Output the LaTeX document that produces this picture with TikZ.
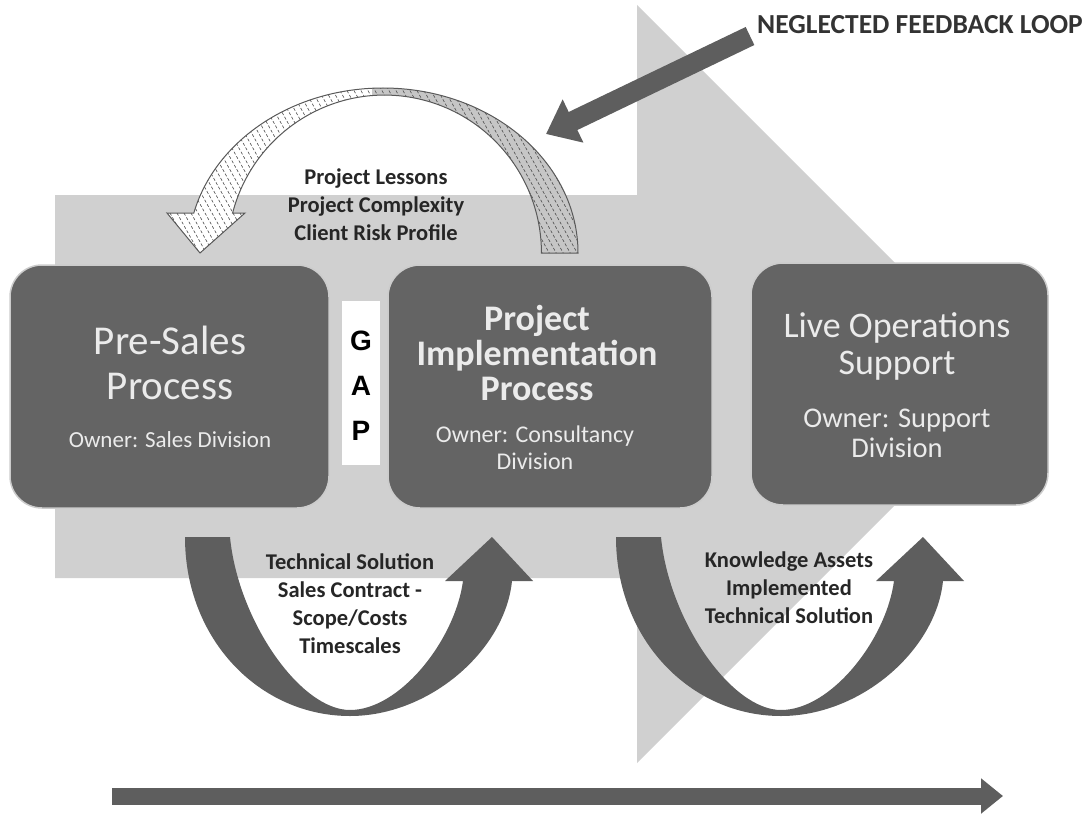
\documentclass[tikz,border=0pt]{standalone}
\usepackage{fontspec}
\setmainfont{Carlito}
\newfontfamily\gapfont{Liberation Sans}
\usetikzlibrary{arrows.meta}

\definecolor{bandgray}{HTML}{D0D0D0}
\definecolor{boxgray}{HTML}{646464}
\definecolor{arrowgray}{HTML}{5E5E5E}
\definecolor{boxtext}{HTML}{EBEBEB}
\definecolor{shadegray}{HTML}{C6C6C6}

% outline of the curved feedback arrow
\newcommand{\fbloop}{(578,253) arc[start angle=0, end angle=-166, x radius=195, y radius=165]
  -- (167,213) -- (200,253) -- (245,213) -- (232.6,213)
  arc[start angle=-165.3, end angle=0, x radius=157, y radius=158] -- cycle}
% outline of the u-turn arrows
\newcommand{\uturn}{(185,537) .. controls (185,640) and (260,716) .. (350,716)
  .. controls (430,716) and (505,650) .. (512,581) -- (533,581) -- (492,537)
  -- (445,581) -- (463,581) .. controls (455,640) and (400,710) .. (350,710)
  .. controls (300,710) and (238,620) .. (230,537) -- cycle}

\begin{document}
\begin{tikzpicture}[x=1pt,y=-1pt,
  procbox/.style={draw=white!80!black, line width=1.5pt, fill=boxgray,
    rounded corners=32pt, inner sep=0pt},
  title/.style={text=boxtext, align=center},
  owner/.style={text=boxtext, align=center},
  note/.style={text=black!85, align=center, font=\bfseries\fontsize{22.5}{28}\selectfont},
  uarrow/.style={fill=arrowgray},
  hatch/.style={draw=black!70, line width=0.6pt, dash pattern=on 3pt off 2pt}]
  \useasboundingbox (0,0) rectangle (1090,816);

  % background arrow
  \fill[bandgray] (55,195) -- (637,195) -- (637,5) -- (1016,384) -- (637,763)
    -- (637,578) -- (55,578) -- cycle;

  % feedback loop
  \fill[white] \fbloop;
  \begin{scope}
    \clip (372,0) rectangle (600,260);
    \fill[shadegray] \fbloop;
  \end{scope}
  \begin{scope}
    \clip \fbloop;
    \foreach \i in {50,57,...,590}
      \draw[hatch] (\i,60) -- ++(110,198);
  \end{scope}
  \draw[black!65, line width=1pt] \fbloop;
  \node[note] (lessons) at (376,205) {Project Lessons\\Project Complexity\\Client Risk Profile};

  \coordinate (nfltail) at (750,36);
  \coordinate (nfltip) at (546,134);
  \draw[arrowgray, line width=20pt, -{Triangle[width=46pt,length=30pt]}] (nfltail) -- (nfltip);
  \node[text=black!80, font=\bfseries\fontsize{27.5}{30}\selectfont] (neglected) at (920,25) {NEGLECTED FEEDBACK LOOP};

  % process boxes
  \node[procbox, minimum width=319pt, minimum height=243pt] (presales) at (169.5,386.5) {};
  \node[procbox, minimum width=324pt, minimum height=243pt] (project) at (550,386.5) {};
  \node[procbox, minimum width=297pt, minimum height=242pt] (liveops) at (899.5,384) {};

  \node[title, font=\fontsize{41}{45}\selectfont] (presalestitle) at (170,363) {Pre-Sales\\Process};
  \node[owner, font=\fontsize{23}{26}\selectfont] (presalesowner) at (170,440) {Owner: Sales Division};
  \node[title, font=\bfseries\fontsize{36}{35}\selectfont] (projecttitle) at (537,353) {Project\\Implementation\\Process};
  \node[owner, font=\fontsize{24}{27}\selectfont] (projectowner) at (535,448) {Owner: Consultancy\\Division};
  \node[title, font=\fontsize{36}{37}\selectfont] (livetitle) at (897,346) {Live Operations\\Support};
  \node[owner, font=\fontsize{28.5}{30}\selectfont] (liveowner) at (897,433) {Owner: Support\\Division};

  % gap
  \node[fill=white, minimum width=38pt, minimum height=164pt] (gap) at (361,383) {};
  \node[align=center, font=\gapfont\bfseries\fontsize{28}{45}\selectfont] (gapletters) at (361,386) {G\\A\\P};

  % hand-over arrows
  \fill[uarrow] \uturn;
  \fill[uarrow, xshift=431pt] \uturn;
  \node[note] (handover) at (350,604) {Technical Solution\\Sales Contract -\\Scope/Costs\\Timescales};
  \node[note] (golive) at (789,588) {Knowledge Assets\\Implemented\\Technical Solution};

  % timeline
  \coordinate (tlstart) at (112,796);
  \coordinate (tlend) at (1003,796);
  \draw[arrowgray, line width=17pt, -{Triangle[width=34pt,length=22pt]}] (tlstart) -- (tlend);
\end{tikzpicture}
\end{document}
